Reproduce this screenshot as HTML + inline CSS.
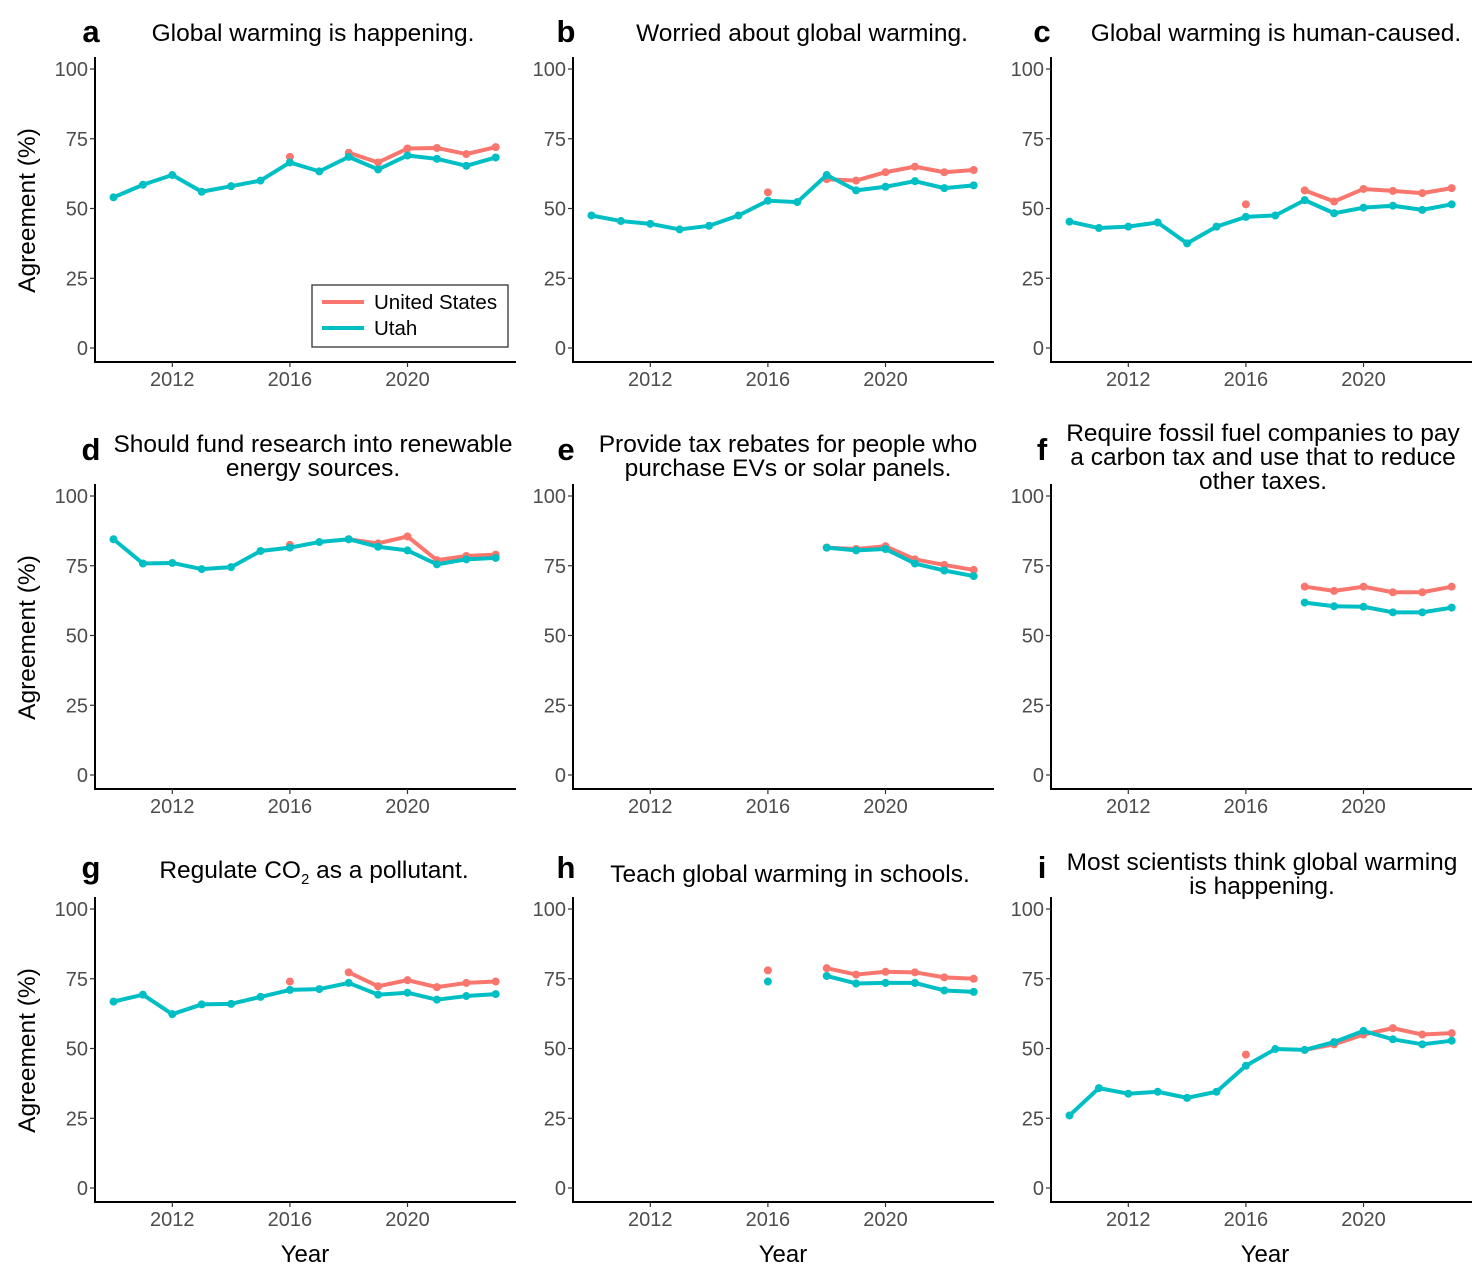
<!DOCTYPE html>
<html><head><meta charset="utf-8"><style>body{margin:0;background:#fff}svg{display:block;font-family:"Liberation Sans",Arial,sans-serif}</style></head>
<body>
<svg id="fig" width="1482" height="1272" viewBox="0 0 1482 1272" xmlns="http://www.w3.org/2000/svg"></svg>
<script>
const years = [2010,2011,2012,2013,2014,2015,2016,2017,2018,2019,2020,2021,2022,2023];
const xTicks = [2012,2016,2020];
const yTicks = [0,25,50,75,100];
const N = null;
const usA = [N,N,N,N,N,N,68.5,N,70,66.5,71.5,71.7,69.5,72];
const utA = [54,58.5,62,56,58,60,66.5,63.3,68.5,64,69,67.8,65.3,68.3];
const usB = [N,N,N,N,N,N,55.8,N,60.5,60,63,65,63,63.8];
const utB = [47.5,45.5,44.5,42.5,43.8,47.5,52.8,52.3,62,56.5,57.8,59.8,57.3,58.3];
const usC = [N,N,N,N,N,N,51.5,N,56.5,52.5,57,56.3,55.5,57.3];
const utC = [45.3,43,43.5,45,37.5,43.5,47,47.5,53,48.3,50.3,51,49.5,51.5];
const usD = [N,N,N,N,N,N,82.5,N,84.5,83,85.5,77,78.5,79];
const utD = [84.5,75.8,76,73.8,74.5,80.3,81.5,83.5,84.5,81.8,80.5,75.5,77.3,77.8];
const usE = [N,N,N,N,N,N,N,N,81.5,81,82,77.3,75.3,73.5];
const utE = [N,N,N,N,N,N,N,N,81.5,80.5,81,75.8,73.3,71.3];
const usF = [N,N,N,N,N,N,N,N,67.5,66,67.5,65.5,65.5,67.5];
const utF = [N,N,N,N,N,N,N,N,61.8,60.5,60.3,58.3,58.3,60];
const usG = [N,N,N,N,N,N,74,N,77.3,72.3,74.5,72,73.5,74];
const utG = [66.8,69.3,62.3,65.8,66,68.5,71,71.3,73.5,69.3,70,67.5,68.8,69.5];
const usH = [N,N,N,N,N,N,78,N,78.8,76.5,77.5,77.3,75.5,75];
const utH = [N,N,N,N,N,N,74,N,76,73.3,73.5,73.5,70.8,70.3];
const usI = [N,N,N,N,N,N,47.8,N,49.5,51.5,55,57.3,55,55.5];
const utI = [26,35.8,33.8,34.5,32.3,34.5,43.8,49.8,49.5,52.3,56.3,53.3,51.5,52.8];

const panels = [
 {l:'a',cx:313,t:['Global warming is happening.'],us:usA,ut:utA},
 {l:'b',cx:802,t:['Worried about global warming.'],us:usB,ut:utB},
 {l:'c',cx:1276,t:['Global warming is human-caused.'],us:usC,ut:utC},
 {l:'d',cx:313,t:['Should fund research into renewable','energy sources.'],us:usD,ut:utD},
 {l:'e',cx:788,t:['Provide tax rebates for people who','purchase EVs or solar panels.'],us:usE,ut:utE},
 {l:'f',cx:1263,t:['Require fossil fuel companies to pay','a carbon tax and use that to reduce','other taxes.'],us:usF,ut:utF},
 {l:'g',cx:314,t:['CO2'],us:usG,ut:utG},
 {l:'h',cx:790,t:['Teach global warming in schools.'],us:usH,ut:utH},
 {l:'i',cx:1262,t:['Most scientists think global warming','is happening.'],us:usI,ut:utI}
];
const NS='http://www.w3.org/2000/svg';
const svg=document.getElementById('fig');
function mk(tag,attrs,parent,text){const e=document.createElementNS(NS,tag);for(const k in attrs)e.setAttribute(k,attrs[k]);if(text!==undefined)e.textContent=text;(parent||svg).appendChild(e);return e;}
const colX0=[95,573,1051], rowZero=[348,775,1188];
const US='#F8766D', UT='#00BFC4';
const TF=24.5;
panels.forEach((p,i)=>{
 const c=i%3,r=Math.floor(i/3);
 const x0=colX0[c], z=rowZero[r];
 const sx=yr=>x0+18.5+(yr-2010)*29.4;
 const sy=v=>z-v*2.79;
 const g=mk('g',{});
 
 
 const axY=z+14;
 const ya=mk('line',{x1:x0,x2:x0,y1:sy(100)-12,y2:axY,stroke:'#000','stroke-width':2},g);
 
 const xa=mk('line',{x1:x0-1,x2:x0+421,y1:axY,y2:axY,stroke:'#000','stroke-width':2},g);
 
 yTicks.forEach(v=>{
  mk('line',{x1:x0-5,x2:x0,y1:sy(v),y2:sy(v),stroke:'#333','stroke-width':1.2},g);
  const t=mk('text',{x:x0-7,y:sy(v)+7,'text-anchor':'end','font-size':20,fill:'#4d4d4d'},g,String(v));
  
 });
 xTicks.forEach(v=>{
  mk('line',{x1:sx(v),x2:sx(v),y1:axY,y2:axY+5,stroke:'#333','stroke-width':1.2},g);
  const t=mk('text',{x:sx(v),y:axY+24,'text-anchor':'middle','font-size':20,fill:'#4d4d4d'},g,String(v));
  
 });
 const cx=p.cx;
 const nl=p.t.length;
 const base = r===0?41:(r===1?(nl===3?441:452):(p.l==='i'?870:(p.l==='h'?882:878)));
 if(p.l==='g'){
  const t=mk('text',{x:cx,y:878,'text-anchor':'middle','font-size':TF,fill:'#000'},g);
  
  mk('tspan',{},t,'Regulate CO');
  mk('tspan',{'font-size':15,dy:6},t,'2');
  mk('tspan',{dy:-6},t,' as a pollutant.');
 } else {
  p.t.forEach((s,k)=>{
   const t=mk('text',{x:cx,y:base+k*24,'text-anchor':'middle','font-size':TF,fill:'#000'},g,s);
   
  });
 }
 const ly = r===0?42:(r===1?460:878);
 const lt=mk('text',{x:x0-4-(c===0?0:c===1?3:5),y:ly,'text-anchor':'middle','font-size':31,'font-weight':'bold',fill:'#000'},g,p.l);
 
 if(c===0){
  const yt=mk('text',{x:0,y:0,'text-anchor':'middle','font-size':24.5,fill:'#000',transform:`translate(35,${sy(50)+2}) rotate(-90)`},g,'Agreement (%)');
  
 }
 if(r===2){
  const xt=mk('text',{x:[305,783,1265][c],y:1262,'text-anchor':'middle','font-size':24,fill:'#000'},g,'Year');
  
 }
 [[p.us,US,'us'],[p.ut,UT,'utah']].forEach(([arr,col,nm])=>{
  let seg=[];
  const flush=()=>{if(seg.length>1){const pl=mk('polyline',{points:seg.join(' '),fill:'none',stroke:col,'stroke-width':4,'stroke-linejoin':'round'},g);}seg=[];};
  arr.forEach((v,k)=>{if(v===null){flush();}else seg.push(sx(years[k])+','+sy(v));});
  flush();
  arr.forEach((v,k)=>{if(v!==null){const pt=mk('circle',{cx:sx(years[k]),cy:sy(v),r:4,fill:col},g);}});
 });
 if(i===0){
  const lg=mk('g',{},g);
  
  mk('rect',{x:312,y:285,width:196,height:62,fill:'#fff',stroke:'#333','stroke-width':1.3},lg);
  mk('line',{x1:322,x2:364,y1:302,y2:302,stroke:US,'stroke-width':4},lg);
  mk('line',{x1:322,x2:364,y1:328,y2:328,stroke:UT,'stroke-width':4},lg);
  const a=mk('text',{x:374,y:309,'font-size':20.5,fill:'#000'},lg,'United States');
  
  const b=mk('text',{x:374,y:335,'font-size':20.5,fill:'#000'},lg,'Utah');
  
 }
});
</script>
</body></html>
